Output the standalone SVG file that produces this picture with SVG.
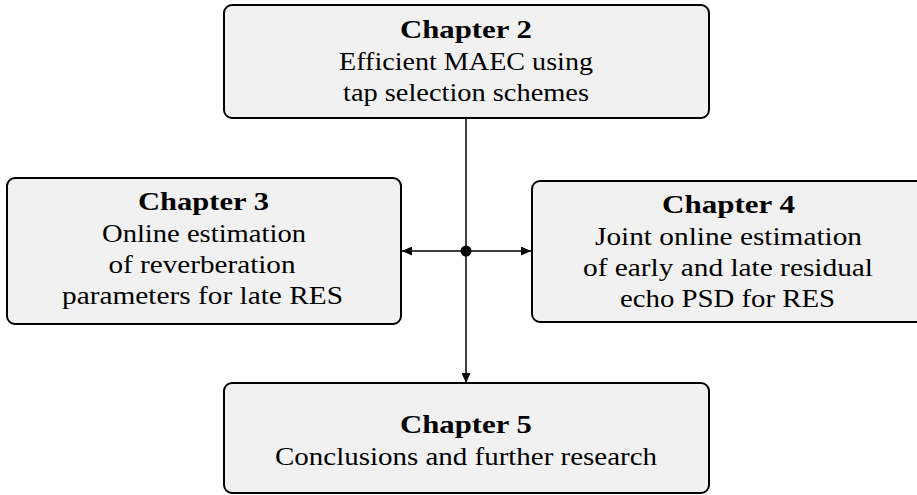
<svg xmlns="http://www.w3.org/2000/svg" width="917" height="495" viewBox="0 0 917 495">
<style>
.box{fill:#f1f1f1;stroke:#000;stroke-width:2}
.c{stroke:#000;stroke-width:1.5;fill:none}
</style>
<defs>
<marker id="ah" markerWidth="10" markerHeight="9" refX="10" refY="4.5" orient="auto" markerUnits="userSpaceOnUse">
<path d="M0,0 L10,4.5 L0,9 Z" fill="#000"/>
</marker>
</defs>
<g id="ch2"><rect class="box" x="224" y="5" width="485" height="113" rx="8"/>
<text font-family="Liberation Serif, serif" font-size="25" text-anchor="middle" font-weight="bold" x="466" y="38" textLength="132" lengthAdjust="spacingAndGlyphs">Chapter 2</text>
<text font-family="Liberation Serif, serif" font-size="25" text-anchor="middle" x="466" y="70" textLength="254" lengthAdjust="spacingAndGlyphs">Efficient MAEC using</text>
<text font-family="Liberation Serif, serif" font-size="25" text-anchor="middle" x="466" y="101" textLength="246" lengthAdjust="spacingAndGlyphs">tap selection schemes</text></g>
<g id="ch3"><rect class="box" x="7" y="178" width="394" height="146" rx="8"/>
<text font-family="Liberation Serif, serif" font-size="25" text-anchor="middle" font-weight="bold" x="203.5" y="210" textLength="131" lengthAdjust="spacingAndGlyphs">Chapter 3</text>
<text font-family="Liberation Serif, serif" font-size="25" text-anchor="middle" x="204" y="242" textLength="204" lengthAdjust="spacingAndGlyphs">Online estimation</text>
<text font-family="Liberation Serif, serif" font-size="25" text-anchor="middle" x="202" y="273" textLength="187" lengthAdjust="spacingAndGlyphs">of reverberation</text>
<text font-family="Liberation Serif, serif" font-size="25" text-anchor="middle" x="202.5" y="304" textLength="281" lengthAdjust="spacingAndGlyphs">parameters for late RES</text></g>
<g id="ch4"><rect class="box" x="532" y="181" width="395" height="141" rx="8"/>
<text font-family="Liberation Serif, serif" font-size="25" text-anchor="middle" font-weight="bold" x="728.5" y="213" textLength="133" lengthAdjust="spacingAndGlyphs">Chapter 4</text>
<text font-family="Liberation Serif, serif" font-size="25" text-anchor="middle" x="728.5" y="245" textLength="267" lengthAdjust="spacingAndGlyphs">Joint online estimation</text>
<text font-family="Liberation Serif, serif" font-size="25" text-anchor="middle" x="728" y="276" textLength="290" lengthAdjust="spacingAndGlyphs">of early and late residual</text>
<text font-family="Liberation Serif, serif" font-size="25" text-anchor="middle" x="727.5" y="307" textLength="215" lengthAdjust="spacingAndGlyphs">echo PSD for RES</text></g>
<g id="ch5"><rect class="box" x="224" y="383" width="485" height="110" rx="8"/>
<text font-family="Liberation Serif, serif" font-size="25" text-anchor="middle" font-weight="bold" x="466" y="433" textLength="132" lengthAdjust="spacingAndGlyphs">Chapter 5</text>
<text font-family="Liberation Serif, serif" font-size="25" text-anchor="middle" x="466" y="465" textLength="382" lengthAdjust="spacingAndGlyphs">Conclusions and further research</text></g>
<g id="connectors">
<line class="c" x1="466" y1="118" x2="466" y2="383" marker-end="url(#ah)"/>
<line class="c" x1="466" y1="251" x2="402" y2="251" marker-end="url(#ah)"/>
<line class="c" x1="466" y1="251" x2="531" y2="251" marker-end="url(#ah)"/>
<circle cx="466" cy="251" r="5.5" fill="#000"/>
</g>
</svg>
